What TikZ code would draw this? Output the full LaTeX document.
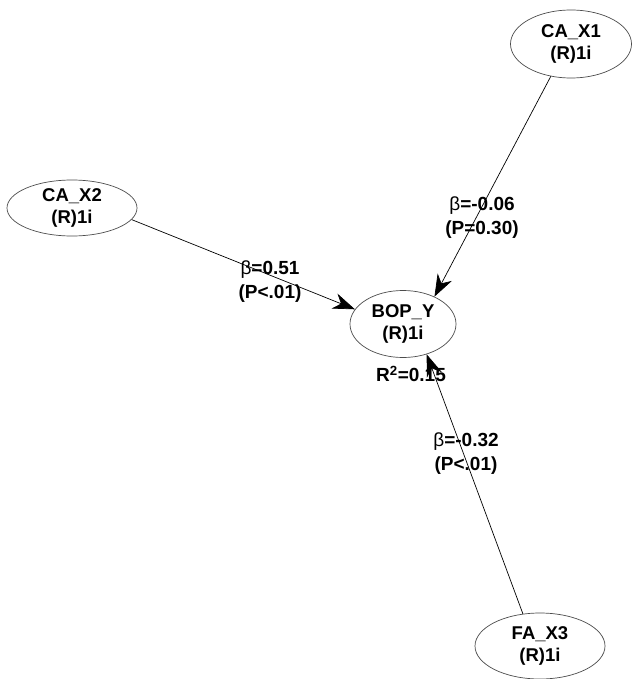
\documentclass[tikz,border=0pt]{standalone}
\usepackage{fontspec}
\setmainfont{Liberation Sans}
\usetikzlibrary{arrows.meta,shapes.geometric}
\begin{document}
\begin{tikzpicture}[x=1pt,y=-1pt,
  lv/.style={ellipse,draw=black!70,line width=0.7pt,inner sep=0pt,align=center,
    font=\fontsize{18.5}{22}\selectfont\bfseries},
  pathline/.style={draw=black,line width=0.7pt,-{Stealth[length=22pt,width=16pt,inset=7pt]}},
  lab/.style={align=center,inner sep=0pt,font=\fontsize{19}{24}\selectfont\bfseries}]
\useasboundingbox (0,0) rectangle (636,679);
\fill[white] (0,0) rectangle (636,679);
\node[lv,minimum width=121pt,minimum height=68pt] (x1) at (571,44) {CA\_X1\\(R)1i};
\node[lv,minimum width=130pt,minimum height=56pt] (x2) at (72,208) {CA\_X2\\(R)1i};
\node[lv,minimum width=106pt,minimum height=67pt] (y) at (403,324) {BOP\_Y\\(R)1i};
\node[lv,minimum width=130pt,minimum height=66pt] (x3) at (540,646) {FA\_X3\\(R)1i};
\draw[pathline] (x1.238) -- (y.41);
\draw[pathline] (x2.-11) -- (y.163);
\draw[pathline] (x3.118) -- (y.-52);
\node[lab] (l1) at (482,218) {{\mdseries β}=-0.06\\(P=0.30)};
\node[lab] (l2) at (270,282) {{\mdseries β}=0.51\\(P<.01)};
\node[lab] (l3) at (466,454) {{\mdseries β}=-0.32\\(P<.01)};
\node[lab] (r2) at (411,374) {R\textsuperscript{2}=0.15};
\end{tikzpicture}
\end{document}
